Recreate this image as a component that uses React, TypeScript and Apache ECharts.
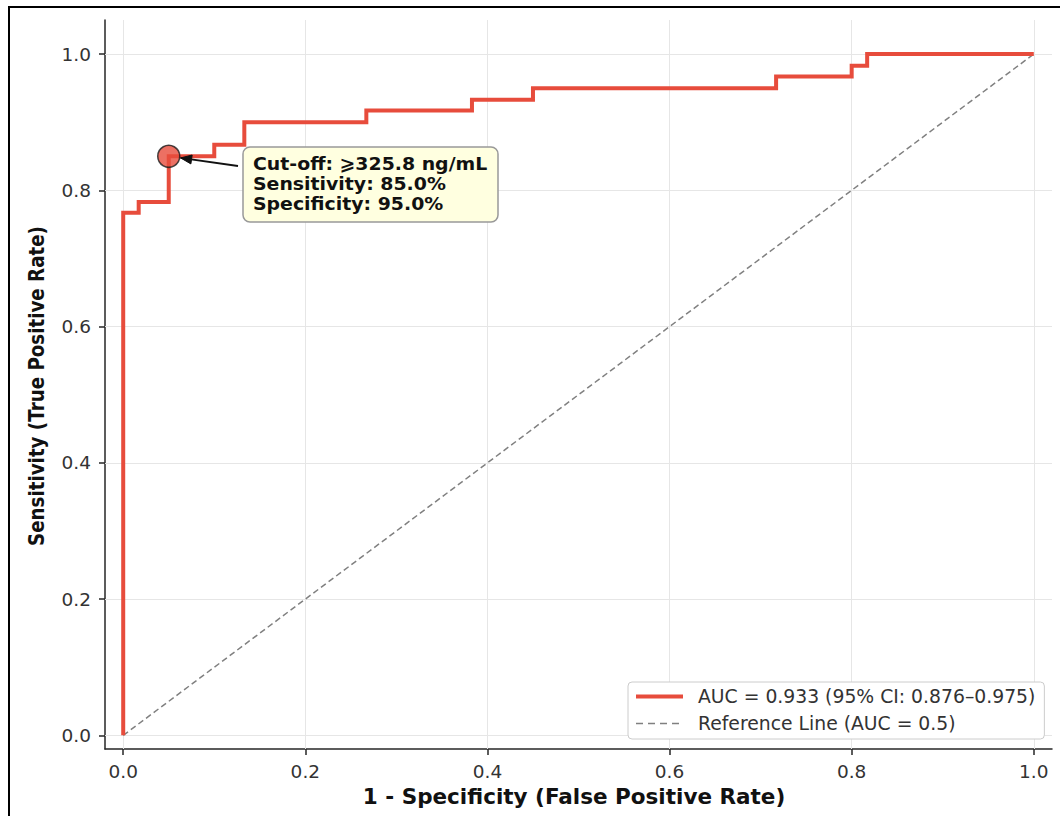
import React, { useEffect, useRef } from 'react';
import * as echarts from 'echarts';

// ROC curve vertices (1 - specificity, sensitivity)
const FPR = [0, 0, 0.017, 0.017, 0.05, 0.05, 0.1, 0.1, 0.133, 0.133, 0.267, 0.267, 0.383, 0.383, 0.45, 0.45, 0.717, 0.717, 0.8, 0.8, 0.817, 0.817, 1.0];
const TPR = [0, 0.767, 0.767, 0.783, 0.783, 0.85, 0.85, 0.867, 0.867, 0.9, 0.9, 0.917, 0.917, 0.933, 0.933, 0.95, 0.95, 0.967, 0.967, 0.983, 0.983, 1.0, 1.0];
const REF_X = [0, 1];
const REF_Y = [0, 1];
const CUTOFF_FPR = [0.05];
const CUTOFF_TPR = [0.85];
const TICKS = [0, 0.2, 0.4, 0.6, 0.8, 1.0];
const ROC_NAME = 'AUC = 0.933 (95% CI: 0.876–0.975)';
const REF_NAME = 'Reference Line (AUC = 0.5)';
const ANNOT = ['Cut-off: ⩾325.8 ng/mL', 'Sensitivity: 85.0%', 'Specificity: 95.0%'];
const X_TITLE = '1 - Specificity (False Positive Rate)';
const Y_TITLE = 'Sensitivity (True Positive Rate)';

const FONT = '"DejaVu Sans", sans-serif';
const RED = '#e74c3c';
const GRIDC = '#e6e6e6';
const AXC = '#262626';

export default function App() {
  const ref = useRef<HTMLDivElement>(null);
  useEffect(() => {
    if (!ref.current) return;
    const chart = echarts.init(ref.current, null, { renderer: 'svg' });
    const axisCommon = {
      type: 'value' as const,
      axisLine: { show: true, onZero: false, lineStyle: { color: AXC, width: 1.5 } },
      axisTick: { show: true, length: 6, customValues: TICKS, lineStyle: { color: AXC, width: 1.5 } },
      axisLabel: {
        customValues: TICKS,
        formatter: (v: number) => v.toFixed(1),
        fontFamily: FONT,
        fontSize: 18.5,
        color: '#333',
      },
      splitLine: { show: false },
    };
    const option: any = {
      animation: false,
      backgroundColor: '#fff',
      grid: { left: 105, right: 8, top: 20, bottom: 67, containLabel: false, outerBoundsMode: 'none' },
      xAxis: { ...axisCommon, min: -0.02, max: 1.02, axisLabel: { ...axisCommon.axisLabel, margin: 13 } },
      yAxis: { ...axisCommon, min: -0.02, max: 1.05, axisLabel: { ...axisCommon.axisLabel, margin: 14 } },
      legend: {
        data: [
          { name: ROC_NAME, lineStyle: { width: 4, color: RED, type: 'solid' } },
          { name: REF_NAME, lineStyle: { width: 1.5, color: '#808080', type: [7, 5] } },
        ],
        orient: 'vertical',
        left: 628,
        top: 682,
        itemWidth: 47,
        itemHeight: 14,
        itemGap: 6,
        padding: [4, 9, 5, 6],
        backgroundColor: '#fff',
        borderColor: '#cccccc',
        borderWidth: 1,
        borderRadius: 4,
        itemStyle: { opacity: 0 },
        textStyle: { fontFamily: FONT, fontSize: 18.8, color: '#333', padding: [0, 0, 0, 10], lineHeight: 21 },
      },
      series: [
        {
          name: REF_NAME,
          type: 'line',
          data: REF_X.map((x, i) => [x, REF_Y[i]]),
          symbol: 'none',
          lineStyle: { color: '#808080', width: 1.5, type: [6, 3.5] },
          itemStyle: { color: '#808080' },
          z: 2,
          silent: true,
          markLine: {
            silent: true,
            symbol: 'none',
            label: { show: false },
            lineStyle: { color: GRIDC, width: 1, type: 'solid' },
            data: [...TICKS.map((v) => ({ xAxis: v })), ...TICKS.map((v) => ({ yAxis: v }))],
            z: 1,
          },
        },
        {
          name: ROC_NAME,
          type: 'line',
          data: FPR.map((x, i) => [x, TPR[i]]),
          symbol: 'none',
          lineStyle: { color: RED, width: 4, join: 'miter' },
          itemStyle: { color: RED },
          z: 3,
          silent: true,
        },
        {
          name: 'cutoff',
          type: 'scatter',
          data: CUTOFF_FPR.map((x, i) => [x, CUTOFF_TPR[i]]),
          symbolSize: 22,
          itemStyle: { color: RED, borderColor: '#1a1a1a', borderWidth: 1.5 },
          z: 5,
          silent: true,
        },
      ],
    };
    chart.setOption(option);

    const c = chart.convertToPixel({ gridIndex: 0 }, [CUTOFF_FPR[0], CUTOFF_TPR[0]]) as number[];
    const tail = [238, 166];
    const dx = c[0] - tail[0];
    const dy = c[1] - tail[1];
    const len = Math.sqrt(dx * dx + dy * dy);
    const ux = dx / len;
    const uy = dy / len;
    const tip = [c[0] - ux * 12, c[1] - uy * 12];
    const hl = 11;
    const hw = 4.5;
    const base = [tip[0] - ux * hl, tip[1] - uy * hl];
    const p1 = [base[0] - uy * hw, base[1] + ux * hw];
    const p2 = [base[0] + uy * hw, base[1] - ux * hw];

    chart.setOption({
      graphic: [
        {
          type: 'rect',
          shape: { x: 9, y: 7, width: 1200, height: 1000 },
          style: { fill: 'none', stroke: '#000', lineWidth: 2 },
          z: 100,
          silent: true,
        },
        {
          type: 'text',
          x: 574,
          y: 796,
          style: { text: X_TITLE, fontFamily: FONT, fontWeight: 'bold', fontSize: 21.5, fill: '#111', align: 'center', verticalAlign: 'middle' },
          silent: true,
        },
        {
          type: 'text',
          x: 37,
          y: 386,
          rotation: Math.PI / 2,
          scaleX: 0.87,
          style: { text: Y_TITLE, fontFamily: FONT, fontWeight: 'bold', fontSize: 21, fill: '#111', align: 'center', verticalAlign: 'middle' },
          silent: true,
        },
        {
          type: 'line',
          shape: { x1: tail[0], y1: tail[1], x2: tip[0], y2: tip[1] },
          style: { stroke: '#111', lineWidth: 1.8 },
          z: 20,
          silent: true,
        },
        {
          type: 'polygon',
          shape: { points: [tip, p1, p2] },
          style: { fill: '#111', stroke: '#111', lineWidth: 1 },
          z: 20,
          silent: true,
        },
        {
          type: 'rect',
          shape: { x: 243, y: 147, width: 255, height: 75, r: 7 },
          style: { fill: '#ffffe0', stroke: '#999', lineWidth: 1.5 },
          z: 21,
          silent: true,
        },
        {
          type: 'text',
          x: 253,
          y: 154,
          scaleX: 1.05,
          style: {
            text: ANNOT.join('\n'),
            fontFamily: FONT,
            fontWeight: 'bold',
            fontSize: 18,
            lineHeight: 20,
            fill: '#111',
            align: 'left',
            verticalAlign: 'top',
          },
          z: 22,
          silent: true,
        },
      ],
    });

    return () => chart.dispose();
  }, []);
  return <div ref={ref} style={{ position: 'absolute', left: 0, top: 0, width: 1060, height: 816 }} />;
}
